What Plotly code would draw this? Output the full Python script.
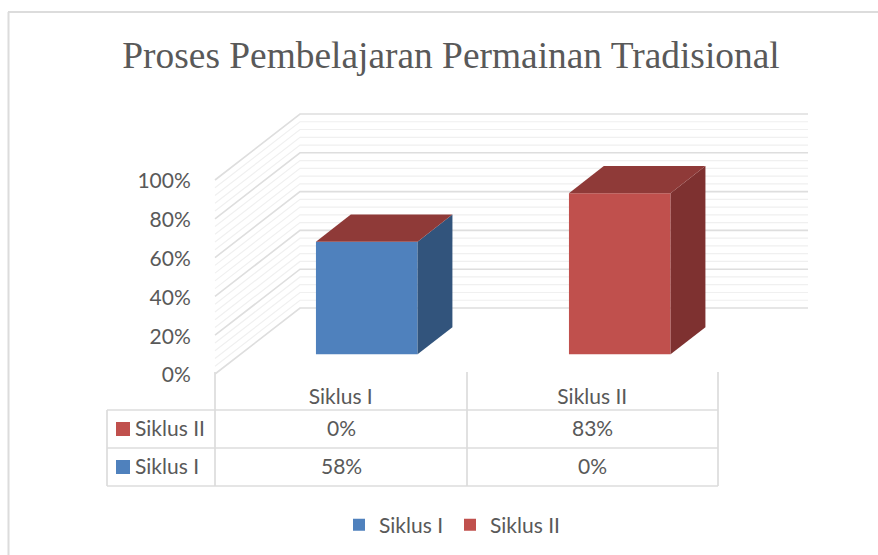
import plotly.graph_objects as go

# ---------- data ----------
title_text = "Proses Pembelajaran Permainan Tradisional"
categories = ["Siklus I", "Siklus II"]
siklus_1 = [58, 0]
siklus_2 = [0, 83]
y_ticks = [0, 20, 40, 60, 80, 100]
y_tick_labels = ["0%", "20%", "40%", "60%", "80%", "100%"]

# ---------- oblique projection, in data units ----------
W, H = 878, 555
PX_X = 251.5            # pixels per category
PX_Y = 1.94             # pixels per percent
X0, Y0 = 215, 374       # pixel of category origin, 0 %
DEPTH_X = 85 / PX_X     # shift of the full depth, in category units
DEPTH_Y = 66 / PX_Y     # shift of the full depth, in percent
BAR_W = 0.404
BAR_PITCH = 1.006
D_NEAR, D_FAR = 0.30, 0.71
FS = 21


def proj(x, v, d=0.0):
    return x + d * DEPTH_X, v + d * DEPTH_Y


def xd(px):
    return (px - X0) / PX_X


def yd(py):
    return (Y0 - py) / PX_Y


def centre(i):
    return 0.502 + i * BAR_PITCH


GRID_MAJOR = "#dedede"
GRID_MINOR = "#f0f0f0"
TEXT = "#595959"
LINE = "#dcdcdc"
BLUE, BLUE_SIDE = "#4f81bd", "#32547c"
RED, RED_SIDE = "#c0504d", "#7e3130"
TOP = "#8f3a38"
FONT = "Lato"

series = [("Siklus I", siklus_1, BLUE, BLUE_SIDE), ("Siklus II", siklus_2, RED, RED_SIDE)]

fig = go.Figure()
shapes = []
annotations = []

# ---------- walls' gridlines ----------
for v in range(100, -1, -4):
    major = v % 20 == 0
    col, w = (GRID_MAJOR, 1.6) if major else (GRID_MINOR, 1.2)
    xa, ya = proj(0, v, 0)
    xb, yb = proj(0, v, 1)
    xc, yc = proj(2.02, v, 1)
    shapes.append(dict(type="path", xref="x", yref="y", layer="below",
                       path=f"M{xa},{ya} L{xb},{yb} L{xc},{yc}",
                       line=dict(color=col, width=w)))

# ---------- bars: front faces through bar traces, sides and tops as polygons ----------
for name, vals, col, side in series:
    xs, ys, bases = [], [], []
    for i, v in enumerate(vals):
        cx, b = proj(centre(i), 0, D_NEAR)
        xs.append(cx)
        ys.append(v)
        bases.append(b)
    fig.add_trace(go.Bar(x=xs, y=ys, base=bases, width=BAR_W, name=name,
                         marker=dict(color=col, line=dict(width=0))))

for name, vals, col, side in series:
    for i, v in enumerate(vals):
        if v == 0:
            continue
        l, r = centre(i) - BAR_W / 2, centre(i) + BAR_W / 2
        p = [proj(r, 0, D_NEAR), proj(r, 0, D_FAR), proj(r, v, D_FAR), proj(r, v, D_NEAR), proj(r, 0, D_NEAR)]
        fig.add_trace(go.Scatter(x=[q[0] for q in p], y=[q[1] for q in p], mode="lines",
                                 fill="toself", fillcolor=side, line=dict(width=0),
                                 showlegend=False, hoverinfo="skip"))
        p = [proj(l, v, D_NEAR), proj(r, v, D_NEAR), proj(r, v, D_FAR), proj(l, v, D_FAR), proj(l, v, D_NEAR)]
        fig.add_trace(go.Scatter(x=[q[0] for q in p], y=[q[1] for q in p], mode="lines",
                                 fill="toself", fillcolor=TOP, line=dict(width=0),
                                 showlegend=False, hoverinfo="skip"))


# ---------- data table ----------
def paper_line(x0, y0, x1, y1, col=LINE, w=1.7):
    shapes.append(dict(type="line", xref="paper", yref="paper",
                       x0=x0 / W, x1=x1 / W, y0=1 - y0 / H, y1=1 - y1 / H,
                       line=dict(color=col, width=w), layer="below"))


def label(px, py, text, anchor="center", size=FS):
    annotations.append(dict(xref="paper", yref="paper", x=px / W, y=1 - py / H, text=text,
                            showarrow=False, xanchor=anchor, yanchor="middle",
                            font=dict(family=FONT, size=size, color=TEXT)))


ROW_Y = [410, 448, 486]
COL_X = [107, 215, 467, 718]
for y in ROW_Y:
    paper_line(COL_X[0], y, COL_X[-1], y)
paper_line(COL_X[0], ROW_Y[0], COL_X[0], ROW_Y[-1])
for x in COL_X[1:]:
    paper_line(x, 372, x, ROW_Y[-1])

rows = [series[1], series[0]]
for r, (name, vals, col, _) in enumerate(rows):
    yc = (ROW_Y[r] + ROW_Y[r + 1]) / 2
    shapes.append(dict(type="rect", xref="paper", yref="paper",
                       x0=116 / W, x1=130 / W, y0=1 - (yc + 7) / H, y1=1 - (yc - 7) / H,
                       fillcolor=col, line=dict(width=0)))
    label(133, yc - 1.5, name, "left")
    for c, v in enumerate(vals):
        label((COL_X[c + 1] + COL_X[c + 2]) / 2, yc - 1.5, f"{v}%")

# ---------- outer frame ----------
paper_line(8, 12, W, 12, "#dcdcdc", 2)
paper_line(8.5, 12, 8.5, H, "#dcdcdc", 2)

fig.update_layout(
    width=W, height=H, autosize=False,
    margin=dict(l=0, r=0, t=0, b=0),
    paper_bgcolor="white", plot_bgcolor="white",
    showlegend=True,
    barmode="overlay",
    font=dict(family=FONT, color=TEXT, size=FS),
    title=dict(text=title_text, x=451 / W, xanchor="center", y=1 - 55 / H, yanchor="middle",
               font=dict(family="Liberation Serif", size=37.4, color=TEXT)),
    legend=dict(orientation="h", x=339 / W, xanchor="left", y=1 - 525 / H, yanchor="middle",
                font=dict(family=FONT, size=FS, color=TEXT), bgcolor="rgba(0,0,0,0)",
                entrywidth=66, entrywidthmode="pixels",
                itemclick=False, itemdoubleclick=False),
    xaxis=dict(range=[xd(0), xd(W)], domain=[0, 1], showgrid=False, zeroline=False, showline=False,
               tickmode="array", tickvals=[0.5, 1.5], ticktext=categories,
               ticks="outside", ticklen=4, tickcolor="rgba(0,0,0,0)",
               anchor="free", position=1 - Y0 / H,
               tickfont=dict(family=FONT, size=FS, color=TEXT), fixedrange=True),
    yaxis=dict(range=[yd(H), yd(0)], domain=[0, 1], showgrid=False, zeroline=False, showline=False,
               tickmode="array", tickvals=y_ticks, ticktext=y_tick_labels,
               ticks="outside", ticklen=20, tickcolor="rgba(0,0,0,0)",
               anchor="free", position=X0 / W, ticklabelshift=1,
               tickfont=dict(family=FONT, size=FS, color=TEXT), fixedrange=True),
    shapes=shapes, annotations=annotations,
)

fig.write_html("out.html", config=dict(displayModeBar=False),
               post_script="document.body.style.margin='0';")
